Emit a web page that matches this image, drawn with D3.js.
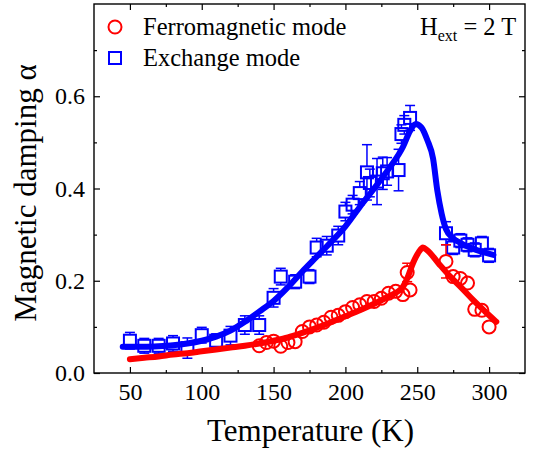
<!DOCTYPE html>
<html>
<head>
<meta charset="utf-8">
<script src="https://cdn.jsdelivr.net/npm/d3@7"></script>
<style>
body { margin: 0; background: #fff; }
text { font-family: "Liberation Serif", "Times New Roman", serif; fill: #000; }
</style>
</head>
<body>
<div id="chart"></div>
<script>
// exchange mode (blue squares)
var blueT   = [50,60,70,80,90,100,110,120,130,140,150,155,165,175,180,187,195,200,205,210,215,217,222,226,229,237,239,241,245,270,275,280,285,290,295,300];
var blueA   = [0.070,0.059,0.059,0.064,0.054,0.082,0.070,0.081,0.104,0.104,0.163,0.209,0.198,0.209,0.272,0.276,0.298,0.350,0.365,0.390,0.435,0.412,0.415,0.433,0.437,0.440,0.518,0.538,0.553,0.303,0.272,0.287,0.278,0.267,0.281,0.255];
var blueErr = [0.018,0.016,0.016,0.017,0.022,0.017,0.015,0.020,0.020,0.020,0.020,0.018,0.015,0.015,0.020,0.020,0.020,0.020,0.020,0.025,0.060,0.030,0.050,0.035,0.030,0.045,0.020,0.020,0.027,0.025,0.015,0.015,0.015,0.015,0.015,0.015];

// ferromagnetic mode (red circles)
var redT   = [140,145,150,155,160,165,170,175,180,185,190,195,200,205,210,215,220,225,230,235,240,243,245,270,275,280,285,290,295,300];
var redA   = [0.059,0.066,0.069,0.058,0.066,0.068,0.090,0.100,0.104,0.110,0.121,0.125,0.133,0.142,0.148,0.155,0.155,0.162,0.173,0.177,0.170,0.218,0.180,0.242,0.209,0.205,0.195,0.138,0.136,0.100];
var redErr = [0.008,0.008,0.008,0.008,0.008,0.008,0.008,0.008,0.008,0.008,0.008,0.008,0.008,0.008,0.008,0.008,0.008,0.008,0.008,0.008,0.008,0.020,0.008,0.036,0.008,0.008,0.008,0.008,0.008,0.008];

// fit curves
var blueFitT = [45,50,60,70,80,90,100,110,120,130,140,150,160,170,180,190,200,210,220,230,240,245,249,253,257,261,264,267,270,275,280,290,303];
var blueFitA = [0.057,0.057,0.057,0.058,0.060,0.064,0.070,0.079,0.092,0.111,0.133,0.156,0.186,0.220,0.252,0.284,0.318,0.360,0.400,0.442,0.490,0.525,0.540,0.532,0.505,0.465,0.395,0.345,0.312,0.292,0.282,0.268,0.256];
var redFitT = [50,60,70,80,90,100,110,120,130,140,150,160,170,180,190,200,210,220,230,240,243,247,251,254,257,265,273,281,289,297,305];
var redFitA = [0.030,0.033,0.036,0.040,0.043,0.047,0.051,0.055,0.059,0.064,0.070,0.077,0.087,0.098,0.110,0.123,0.136,0.150,0.166,0.187,0.205,0.238,0.262,0.272,0.266,0.237,0.209,0.184,0.158,0.134,0.111];

var xMajor = [50,100,150,200,250,300];
var xMinor = [75,125,175,225,275];
var yMajor = [0.0,0.2,0.4,0.6];
var yMinor = [0.1,0.3,0.5,0.7];

var legendNames = ["Ferromagnetic mode", "Exchange mode"];

var width = 533, height = 450;
var pL = 94, pR = 525, pT = 4, pB = 373;

var svg = d3.select("#chart").append("svg").attr("width", width).attr("height", height);
svg.append("rect").attr("width", width).attr("height", height).attr("fill", "#fff");

var x = d3.scaleLinear().domain([25, 325]).range([pL, pR]);
var y = d3.scaleLinear().domain([0, 0.8]).range([pB, pT]);

function zip(t, a, e) {
	return t.map(function(d, i) { return { t: d, a: a[i], e: e ? e[i] : 0 }; });
}

// axes, ticks inward on all four sides
svg.append("g").attr("transform", "translate(0," + pB + ")")
	.call(d3.axisBottom(x).tickValues(xMajor).tickSize(-6).tickPadding(10).tickFormat(d3.format("d")));
svg.append("g").attr("transform", "translate(0," + pB + ")")
	.call(d3.axisBottom(x).tickValues(xMinor).tickSize(-3).tickFormat(""));
svg.append("g").attr("transform", "translate(0," + pT + ")")
	.call(d3.axisTop(x).tickValues(xMajor).tickSize(-6).tickFormat(""));
svg.append("g").attr("transform", "translate(0," + pT + ")")
	.call(d3.axisTop(x).tickValues(xMinor).tickSize(-3).tickFormat(""));
svg.append("g").attr("transform", "translate(" + pL + ",0)")
	.call(d3.axisLeft(y).tickValues(yMajor).tickSize(-6).tickPadding(9).tickFormat(d3.format(".1f")));
svg.append("g").attr("transform", "translate(" + pL + ",0)")
	.call(d3.axisLeft(y).tickValues(yMinor).tickSize(-3).tickFormat(""));
svg.append("g").attr("transform", "translate(" + pR + ",0)")
	.call(d3.axisRight(y).tickValues(yMajor).tickSize(-6).tickFormat(""));
svg.append("g").attr("transform", "translate(" + pR + ",0)")
	.call(d3.axisRight(y).tickValues(yMinor).tickSize(-3).tickFormat(""));

svg.selectAll(".domain").remove();
svg.selectAll(".tick line").attr("stroke", "#000").attr("stroke-width", 1.2);
svg.selectAll(".tick text").attr("font-family", "Liberation Serif").attr("font-size", 24).attr("fill", "#000");

svg.append("rect").attr("x", pL).attr("y", pT).attr("width", pR - pL).attr("height", pB - pT)
	.attr("fill", "none").attr("stroke", "#000").attr("stroke-width", 1.4);

// error bars outside the marker
function errBars(data, color, half) {
	var g = svg.append("g").attr("stroke", color).attr("stroke-width", 1.5).attr("fill", "none");
	data.forEach(function(d) {
		var cx = x(d.t), cy = y(d.a), yt = y(d.a + d.e), yb = y(d.a - d.e);
		if (cy - yt > half) {
			g.append("line").attr("x1", cx).attr("x2", cx).attr("y1", yt).attr("y2", cy - half);
			g.append("line").attr("x1", cx - 5).attr("x2", cx + 5).attr("y1", yt).attr("y2", yt);
		}
		if (yb - cy > half) {
			g.append("line").attr("x1", cx).attr("x2", cx).attr("y1", cy + half).attr("y2", yb);
			g.append("line").attr("x1", cx - 5).attr("x2", cx + 5).attr("y1", yb).attr("y2", yb);
		}
	});
}

var blue = zip(blueT, blueA, blueErr);
var red = zip(redT, redA, redErr);

errBars(blue, "#0000ff", 6);
svg.append("g").selectAll("rect").data(blue).enter().append("rect")
	.attr("x", function(d) { return x(d.t) - 6; })
	.attr("y", function(d) { return y(d.a) - 6; })
	.attr("width", 12).attr("height", 12)
	.attr("fill", "none").attr("stroke", "#0000ff").attr("stroke-width", 2);

errBars(red, "#ff0000", 6.5);
svg.append("g").selectAll("circle").data(red).enter().append("circle")
	.attr("cx", function(d) { return x(d.t); })
	.attr("cy", function(d) { return y(d.a); })
	.attr("r", 6.5)
	.attr("fill", "none").attr("stroke", "#ff0000").attr("stroke-width", 2);

// fit lines
var line = d3.line().curve(d3.curveMonotoneX)
	.x(function(d) { return x(d.t); })
	.y(function(d) { return y(d.a); });
svg.append("path").datum(zip(redFitT, redFitA))
	.attr("d", line).attr("fill", "none").attr("stroke", "#ff0000")
	.attr("stroke-width", 6).attr("stroke-linecap", "round").attr("stroke-linejoin", "round");
svg.append("path").datum(zip(blueFitT, blueFitA))
	.attr("d", line).attr("fill", "none").attr("stroke", "#0000ff")
	.attr("stroke-width", 6).attr("stroke-linecap", "round").attr("stroke-linejoin", "round");

// legend
svg.append("circle").attr("cx", 115).attr("cy", 27).attr("r", 6.5)
	.attr("fill", "none").attr("stroke", "#ff0000").attr("stroke-width", 2);
svg.append("rect").attr("x", 109).attr("y", 52).attr("width", 12).attr("height", 12)
	.attr("fill", "none").attr("stroke", "#0000ff").attr("stroke-width", 2);
svg.append("text").attr("x", 143).attr("y", 35).attr("font-size", 24.5).text(legendNames[0]);
svg.append("text").attr("x", 143).attr("y", 66).attr("font-size", 24.5).text(legendNames[1]);

// field label
var hl = svg.append("text").attr("x", 420).attr("y", 35).attr("font-size", 24.5);
hl.append("tspan").text("H");
hl.append("tspan").attr("font-size", 16).attr("dy", 6).text("ext");
hl.append("tspan").attr("dy", -6).text(" = 2 T");

// axis titles
svg.append("text").attr("x", (pL + pR) / 2 + 1).attr("y", 441)
	.attr("text-anchor", "middle").attr("font-size", 31).text("Temperature (K)");
svg.append("text").attr("transform", "translate(36,193) rotate(-90)")
	.attr("text-anchor", "middle").attr("font-size", 31).text("Magnetic damping \u03b1");
</script>
</body>
</html>
